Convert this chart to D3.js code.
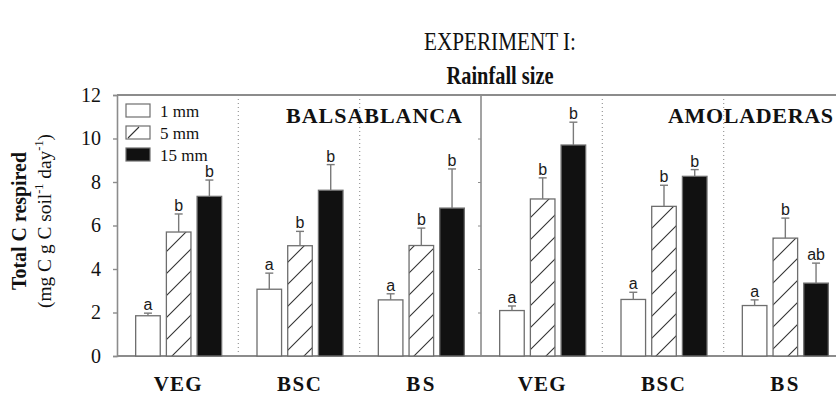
<!DOCTYPE html>
<html>
<head>
<meta charset="utf-8">
<script src="https://cdn.jsdelivr.net/npm/d3@7"></script>
<style>
  html, body { margin: 0; padding: 0; background: #fff; }
  svg { display: block; }
</style>
</head>
<body>
<svg id="chart" width="836" height="395"></svg>
<script>
// Sites and soil-cover groups along the x axis
const sites = ["BALSABLANCA", "AMOLADERAS"];
const covers = ["VEG", "BSC", "BS"];
const rainfall = ["1 mm", "5 mm", "15 mm"];

// Total C respired (mg C g C soil-1 day-1), groups ordered site by site
const mean1mm  = [1.85, 3.07, 2.58, 2.09, 2.60, 2.32];
const se1mm    = [0.12, 0.74, 0.28, 0.21, 0.33, 0.26];
const mean5mm  = [5.70, 5.07, 5.08, 7.22, 6.88, 5.42];
const se5mm    = [0.83, 0.66, 0.80, 0.97, 0.97, 0.92];
const mean15mm = [7.34, 7.62, 6.80, 9.70, 8.26, 3.35];
const se15mm   = [0.75, 1.18, 1.80, 1.05, 0.31, 0.92];

// Significance letters per bar
const let1mm  = ["a", "a", "a", "a", "a", "a"];
const let5mm  = ["b", "b", "b", "b", "b", "b"];
const let15mm = ["b", "b", "b", "b", "b", "ab"];

const yTicks = [0, 2, 4, 6, 8, 10, 12];

const means = [mean1mm, mean5mm, mean15mm];
const errs = [se1mm, se5mm, se15mm];
const letters = [let1mm, let5mm, let15mm];

const groups = [];
sites.forEach(s => covers.forEach(c => groups.push(s + "|" + c)));

const svg = d3.select("#chart");
const plotLeft = 117, plotRight = 845, plotTop = 95, plotBottom = 356;

const x = d3.scaleBand().domain(groups).range([plotLeft, plotRight]).paddingInner(0).paddingOuter(0);
const y = d3.scaleLinear().domain([0, 12]).range([plotBottom, plotTop]);

const serif = "'Liberation Serif','Times New Roman',Times,serif";
const sans = "'Liberation Sans',Arial,Helvetica,sans-serif";
const grey = "#8c8c8c";

// hatch pattern for the 5 mm bars
const defs = svg.append("defs");
const pat = defs.append("pattern")
  .attr("id", "hatch").attr("patternUnits", "userSpaceOnUse")
  .attr("width", 22).attr("height", 22);
pat.append("rect").attr("width", 22).attr("height", 22).attr("fill", "#fff");
pat.append("path").attr("d", "M-2,24 L24,-2 M-11,11 L11,-11 M11,33 L33,11")
  .attr("stroke", "#333").attr("stroke-width", 1.1);

defs.append("clipPath").attr("id", "plotclip")
  .append("rect").attr("x", 0).attr("y", 0).attr("width", 836).attr("height", 395);

// Titles (condensed serif)
svg.append("text").attr("x", 500).attr("y", 50).attr("text-anchor", "middle")
  .attr("font-family", serif).attr("font-size", 25).attr("fill", "#111")
  .attr("textLength", 152).attr("lengthAdjust", "spacingAndGlyphs")
  .text("EXPERIMENT I:");
svg.append("text").attr("x", 500).attr("y", 84).attr("text-anchor", "middle")
  .attr("font-family", serif).attr("font-size", 25).attr("font-weight", "bold").attr("fill", "#111")
  .attr("textLength", 107).attr("lengthAdjust", "spacingAndGlyphs")
  .text("Rainfall size");

const plot = svg.append("g").attr("clip-path", "url(#plotclip)");

// separators between cover groups (dotted) and between sites (solid)
groups.forEach((g, i) => {
  if (i === 0) return;
  const xs = x(g);
  if (i % covers.length === 0) {
    plot.append("line").attr("x1", xs).attr("x2", xs).attr("y1", plotTop).attr("y2", plotBottom)
      .attr("stroke", grey).attr("stroke-width", 1.6);
  } else {
    plot.append("line").attr("x1", xs).attr("x2", xs).attr("y1", plotTop).attr("y2", plotBottom)
      .attr("stroke", "#999").attr("stroke-width", 1.2).attr("stroke-dasharray", "1,3");
  }
});

// minor ticks on the site divider
const midX = x(groups[covers.length]);
const midAxis = plot.append("g").attr("transform", `translate(${midX},0)`)
  .call(d3.axisLeft(y).tickValues(yTicks.slice(1, -1)).tickSize(3).tickFormat(""));
midAxis.select(".domain").remove();
midAxis.selectAll("line").attr("stroke", grey);

// frame: top line and baseline
plot.append("line").attr("x1", plotLeft).attr("x2", 836).attr("y1", plotTop).attr("y2", plotTop)
  .attr("stroke", grey).attr("stroke-width", 2);
plot.append("line").attr("x1", plotLeft).attr("x2", 836).attr("y1", plotBottom).attr("y2", plotBottom)
  .attr("stroke", grey).attr("stroke-width", 2);

// bars
const barsG = plot.append("g");
groups.forEach((g, gi) => {
  const c = x(g) + x.bandwidth() / 2 + 1;
  const inner = d3.scaleBand().domain(rainfall).range([c - 43, c + 43]).paddingInner(0.2);
  rainfall.forEach((r, ri) => {
    const v = means[ri][gi], e = errs[ri][gi];
    const bx = inner(r), bw = inner.bandwidth();
    const fill = ri === 0 ? "#fff" : ri === 1 ? "url(#hatch)" : "#111";
    barsG.append("rect").attr("x", bx).attr("y", y(v))
      .attr("width", bw).attr("height", y(0) - y(v))
      .attr("fill", fill).attr("stroke", "#6e6e6e").attr("stroke-width", 1.3);
    const cx = bx + bw / 2;
    barsG.append("line").attr("x1", cx).attr("x2", cx).attr("y1", y(v)).attr("y2", y(v + e))
      .attr("stroke", "#7a7a7a").attr("stroke-width", 1.4);
    barsG.append("line").attr("x1", cx - 4).attr("x2", cx + 4).attr("y1", y(v + e)).attr("y2", y(v + e))
      .attr("stroke", "#7a7a7a").attr("stroke-width", 1.4);
    barsG.append("text").attr("x", cx).attr("y", y(v + e) - 3).attr("text-anchor", "middle")
      .attr("font-family", sans).attr("font-size", 16).attr("fill", "#1a1a1a")
      .text(letters[ri][gi]);
  });
});

// y axis
const yAxis = svg.append("g").attr("transform", `translate(${plotLeft},0)`)
  .call(d3.axisLeft(y).tickValues(yTicks).tickSize(4).tickPadding(12).tickFormat(d3.format("d")));
yAxis.select(".domain").attr("stroke", grey).attr("stroke-width", 1.6);
yAxis.selectAll(".tick line").attr("stroke", grey).attr("stroke-width", 1.4);
yAxis.selectAll("text").attr("font-family", serif).attr("font-size", 20).attr("fill", "#111");

// y axis title
const yt = svg.append("g").attr("transform", "translate(0,221) rotate(-90)");
yt.append("text").attr("x", 0).attr("y", 26).attr("text-anchor", "middle")
  .attr("font-family", serif).attr("font-size", 21).attr("font-weight", "bold").attr("fill", "#111")
  .attr("textLength", 138).attr("lengthAdjust", "spacingAndGlyphs")
  .text("Total C respired");
const sub = yt.append("text").attr("x", 0).attr("y", 51).attr("text-anchor", "middle")
  .attr("font-family", serif).attr("font-size", 19).attr("fill", "#111")
  .attr("textLength", 174).attr("lengthAdjust", "spacingAndGlyphs");
sub.append("tspan").text("(mg C g C soil");
sub.append("tspan").attr("dy", -8).attr("font-size", 12).text("-1");
sub.append("tspan").attr("dy", 8).text(" day");
sub.append("tspan").attr("dy", -8).attr("font-size", 12).text("-1");
sub.append("tspan").attr("dy", 8).text(")");

// cover labels under each group
const coverLens = { VEG: 48, BSC: 44, BS: 28 };
groups.forEach(g => {
  const c = x(g) + x.bandwidth() / 2 + 1;
  const name = g.split("|")[1];
  plot.append("text").attr("x", c - 1).attr("y", 391).attr("text-anchor", "middle")
    .attr("font-family", serif).attr("font-size", 21).attr("font-weight", "bold")
    .attr("textLength", coverLens[name]).attr("lengthAdjust", "spacing")
    .attr("fill", "#111")
    .text(name);
});

// site labels, right-aligned in each site panel
const siteEnds = [x(groups[2]) + x.bandwidth() - 19, 833];
const siteLens = [176, 165];
sites.forEach((s, i) => {
  plot.append("text").attr("x", siteEnds[i] - siteLens[i]).attr("y", 123)
    .attr("font-family", serif).attr("font-size", 22).attr("font-weight", "bold").attr("fill", "#111")
    .attr("textLength", siteLens[i]).attr("lengthAdjust", "spacing")
    .text(s);
});

// legend
const leg = svg.append("g").attr("transform", "translate(126,104)");
rainfall.forEach((r, i) => {
  const row = leg.append("g").attr("transform", `translate(0,${i * 22})`);
  row.append("rect").attr("width", 24).attr("height", 13)
    .attr("fill", i === 2 ? "#111" : "#fff")
    .attr("stroke", "#6e6e6e").attr("stroke-width", 1.2);
  if (i === 1) {
    row.append("line").attr("x1", 2).attr("y1", 12).attr("x2", 13).attr("y2", 1)
      .attr("stroke", "#333").attr("stroke-width", 1.1);
  }
  row.append("text").attr("x", 34).attr("y", 13)
    .attr("font-family", serif).attr("font-size", 17).attr("fill", "#111")
    .text(r);
});
</script>
</body>
</html>
